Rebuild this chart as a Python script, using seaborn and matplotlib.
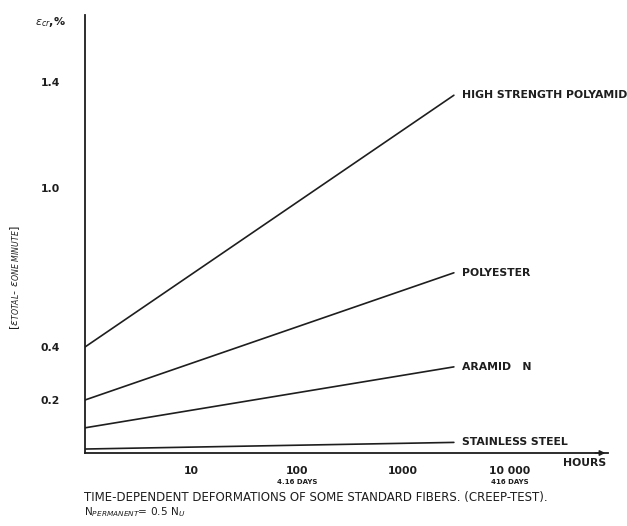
import matplotlib
matplotlib.use("Agg")
import matplotlib.pyplot as plt
import seaborn as sns
import pandas as pd
import numpy as np

# ---- data ----
materials = ["HIGH STRENGTH POLYAMID", "POLYESTER", "ARAMID   N", "STAINLESS STEEL"]
hours = [1, 3000]
start_values = [0.40, 0.20, 0.095, 0.015]
end_values = [1.35, 0.68, 0.325, 0.04]
x_ticks = [10, 100, 1000, 10000]
x_tick_labels = ["10", "100", "1000", "10 000"]
y_ticks = [0.2, 0.4, 1.0, 1.4]
y_tick_labels = ["0.2", "0.4", "1.0", "1.4"]
days_notes = {100: "4.16 DAYS", 10000: "416 DAYS"}

rows = []
for m, s, e in zip(materials, start_values, end_values):
    rows.append({"material": m, "hours": hours[0], "strain": s})
    rows.append({"material": m, "hours": hours[1], "strain": e})
df = pd.DataFrame(rows)

sns.set_style("white")
plt.rcParams["font.family"] = ["DejaVu Sans"]
plt.rcParams["mathtext.fontset"] = "dejavusans"

ink = "#1e1e1e"
fig = plt.figure(figsize=(6.27, 5.26), dpi=100)
ax = fig.add_axes([85 / 627, 1 - 453 / 526, 523 / 627, (453 - 15) / 526])

sns.lineplot(data=df, x="hours", y="strain", units="material", estimator=None,
             color=ink, linewidth=1.2, ax=ax, legend=False)
ax.set_xscale("log")
ax.set_xlim(1, 10 ** 4.93)
ax.set_ylim(0, (453 - 15) / 265)

for m, e in zip(materials, end_values):
    ax.annotate(m, (hours[1], e), xytext=(6, 0), textcoords="offset points",
                va="center", ha="left", fontsize=7.8, color=ink, fontweight="bold")

ax.set_xticks(x_ticks)
ax.set_xticklabels(x_tick_labels)
ax.xaxis.set_minor_locator(matplotlib.ticker.NullLocator())
ax.set_yticks(y_ticks)
ax.set_yticklabels(y_tick_labels)
ax.tick_params(axis="x", direction="in", length=4, width=1, pad=9, labelsize=7.8, colors=ink)
ax.tick_params(axis="y", direction="out", length=2, width=1, pad=16, labelsize=7.8, colors=ink)
for lab in ax.get_xticklabels() + ax.get_yticklabels():
    lab.set_fontweight("bold")
ax.set_xlabel("")
ax.set_ylabel("")

for side in ["top", "right"]:
    ax.spines[side].set_visible(False)
for side in ["left", "bottom"]:
    ax.spines[side].set_color(ink)
    ax.spines[side].set_linewidth(1.3)

# arrow head on the time axis
ax.annotate("", xy=(1.0, 0), xytext=(0.97, 0), xycoords="axes fraction",
            arrowprops=dict(arrowstyle="-|>", color=ink, lw=1.0, mutation_scale=8))

for h, note in days_notes.items():
    ax.annotate(note, (h, 0), xytext=(0, -21), textcoords="offset points",
                ha="center", va="center", fontsize=5, fontweight="bold", color=ink)

fig.text(585 / 627, 1 - 463 / 526, "HOURS", ha="center", va="center",
         fontsize=7.8, fontweight="bold", color=ink)
fig.text(50 / 627, 1 - 22 / 526, r"$\epsilon_{cr}$,%", ha="center", va="center",
         fontsize=8, fontweight="bold", color=ink)
fig.text(15 / 627, 1 - 278 / 526, r"$[\epsilon_{TOTAL}$- $\epsilon_{ONE\ MINUTE}]$",
         rotation=90, ha="center", va="center", fontsize=8, color=ink)
fig.text(84 / 627, 1 - 498 / 526,
         "TIME-DEPENDENT DEFORMATIONS OF SOME STANDARD FIBERS. (CREEP-TEST).",
         ha="left", va="center", fontsize=8.5, color=ink)
fig.text(84 / 627, 1 - 512 / 526, r"N$_{PERMANENT}$= 0.5 N$_{U}$",
         ha="left", va="center", fontsize=7.6, color=ink)

fig.savefig("out.png", dpi=100)
